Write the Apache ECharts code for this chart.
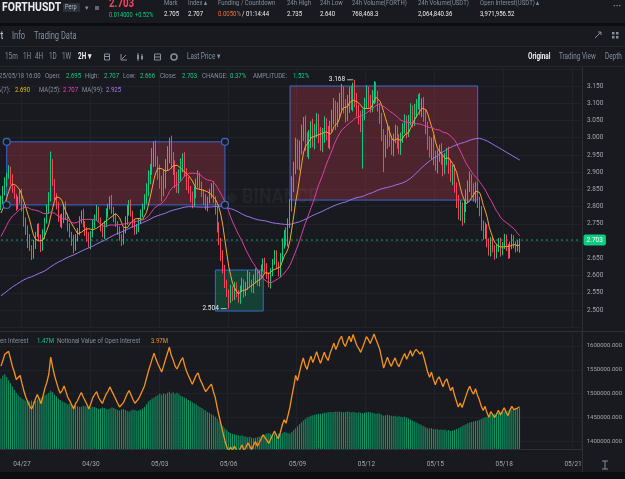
<!DOCTYPE html>
<html>
<head>
<meta charset="utf-8">
<title>FORTHUSDT Perp 2H</title>
<script src="https://cdn.jsdelivr.net/npm/echarts@6/dist/echarts.min.js"></script>
<style>
  html, body { margin: 0; padding: 0; background: #181a20; }
  #chart { width: 625px; height: 479px; }
</style>
</head>
<body>
<div id="chart"></div>
<script>
// 2H candles, first visible slot 04/26 02:00, last candle 05/18 16:00

// closes before the visible range, only used for the moving averages
const prevCloses = [
  2.46,2.44,2.47,2.45,2.43,2.46,2.48,2.45,2.47,2.49,2.46,2.44,2.47,2.45,2.48,2.50,2.47,2.45,2.48,2.46,2.49,2.47,2.45,2.48,
  2.46,2.49,2.47,2.50,2.48,2.46,2.49,2.51,2.48,2.47,2.50,2.48,2.46,2.49,2.47,2.45,2.48,2.50,2.47,2.49,2.46,2.48,2.51,2.49,2.47,2.50,
  2.48,2.46,2.49,2.47,2.50,2.48,2.51,2.49,2.47,2.50,2.52,2.49,2.51,2.48,2.50,2.53,2.51,2.49,2.52,2.54,2.51,2.55,2.53,2.56,
  2.58,2.62,2.60,2.64,2.67,2.65,2.69,2.72,2.70,2.68,2.71,2.74,2.72,2.70,2.73,2.76,2.74,2.72,2.75,2.78,2.76,2.79,2.77,2.80
];

const closes = [
  2.82,2.84,2.87,2.89,2.91,2.88,2.85,2.83,2.80,2.82,2.84,
  2.80,2.76,2.73,2.70,2.68,2.66,2.69,2.72,2.74,2.71,
  2.68,2.72,2.76,2.79,2.83,2.92,2.87,2.83,2.80,2.77,2.75,
  2.77,2.80,2.77,2.74,2.72,2.70,2.68,2.71,2.73,2.76,2.78,
  2.75,2.73,2.71,2.69,2.72,2.75,2.77,2.79,2.76,2.74,
  2.72,2.75,2.78,2.80,2.82,2.79,2.77,2.75,
  2.73,2.71,2.70,2.73,2.76,2.79,2.81,2.78,2.75,2.73,2.74,2.76,2.78,2.80,2.82,
  2.85,2.88,2.91,2.94,2.97,2.93,2.90,
  2.87,2.85,2.88,2.92,2.95,2.98,2.94,2.91,2.88,2.86,2.89,
  2.92,2.94,2.90,2.87,2.85,2.83,2.81,2.84,2.87,2.89,2.86,
  2.84,2.82,2.80,2.82,2.84,2.86,2.82,2.79,
  2.74,2.70,2.66,2.62,2.58,2.55,2.53,2.56,2.54,2.57,2.55,2.53,2.56,2.58,2.55,2.57,2.60,2.58,2.56,2.59,2.61,2.58,2.60,2.62,2.64,
  2.62,2.60,2.58,2.61,2.64,2.66,2.63,2.61,2.65,2.69,2.72,2.70,2.75,2.80,
  2.86,2.91,2.97,2.93,2.97,3.01,3.04,2.99,2.96,3.00,3.03,2.99,3.02,3.05,3.01,2.98,
  3.01,3.04,3.01,2.99,3.03,3.06,3.09,3.05,3.08,3.11,3.13,3.09,3.07,3.10,3.13,3.10,3.14,3.11,
  3.08,3.06,3.04,3.07,3.10,3.13,3.11,3.09,
  3.12,3.15,3.12,3.09,3.06,
  3.01,2.96,2.99,3.02,2.99,
  2.97,3.00,3.02,2.99,2.97,3.00,3.03,3.05,3.02,
  3.05,3.08,3.05,3.08,3.10,3.11,3.08,3.10,3.07,
  3.03,2.99,2.96,2.99,2.95,2.92,2.95,2.97,2.94,
  2.91,2.94,2.96,2.92,2.89,2.91,
  2.86,2.82,2.78,2.80,2.77,2.80,2.83,2.86,
  2.88,2.85,2.83,2.86,2.82,2.79,
  2.75,2.72,2.74,2.70,2.67,2.70,2.68,
  2.66,2.68,2.70,2.67,2.69,2.71,2.68,2.66,2.69,2.71,2.69,2.68,2.695,2.703
];

// wick lengths above / below the body, in thousandths of a USDT
const upWick = [
  12,20,15,8,10,6,14,9,7,10,8,
  12,6,9,15,20,8,14,7,10,12,
  9,14,8,16,12,40,18,10,9,14,7,
  10,8,15,9,12,7,18,10,8,12,9,
  14,8,10,16,9,12,7,15,10,8,
  12,9,15,8,10,14,9,11,
  8,13,10,7,12,15,9,11,8,14,10,7,12,9,16,
  18,25,14,30,20,22,16,
  22,20,28,18,25,20,26,19,24,21,18,
  20,15,18,12,16,10,14,18,11,15,9,
  13,10,16,9,12,8,14,10,
  12,15,9,14,11,8,10,13,9,12,10,8,11,14,9,12,15,10,8,13,11,9,14,12,10,
  12,16,9,11,8,14,13,10,15,18,12,20,16,22,
  28,20,30,25,22,28,20,24,26,22,18,25,20,22,19,21,
  18,22,16,24,19,21,25,18,23,20,26,19,22,24,18,21,20,28,
  20,15,18,12,16,22,18,14,
  18,14,12,16,10,
  12,15,18,20,14,
  16,12,18,14,20,15,12,18,14,
  16,20,14,18,12,16,20,14,18,
  12,16,14,10,18,12,15,10,14,
  12,15,10,14,16,11,
  12,10,14,18,12,15,20,16,
  22,14,18,12,10,8,
  12,10,14,9,8,12,10,
  8,12,9,10,7,11,9,12,8,10,7,9,8,4
];
const lowWick = [
  10,14,8,12,9,16,10,7,12,8,11,
  14,18,12,20,9,15,11,13,8,10,
  12,8,14,9,11,15,10,12,8,14,9,
  13,18,9,12,10,14,16,8,11,13,9,
  10,15,12,8,14,9,13,11,7,12,
  9,14,10,12,8,11,15,9,
  12,9,14,10,8,13,16,9,11,12,10,14,8,11,9,
  12,20,15,18,25,14,22,
  18,35,20,28,16,24,30,18,26,20,22,
  16,20,14,22,12,18,15,10,16,14,12,
  12,15,10,14,11,16,9,13,
  15,12,18,14,16,12,26,10,14,11,13,9,12,8,14,10,12,15,9,11,13,10,12,9,8,
  12,10,14,18,12,9,11,13,15,10,12,14,16,12,
  14,18,16,22,25,18,20,28,16,22,30,18,24,20,26,18,
  22,25,18,20,24,16,22,28,19,24,30,20,26,22,28,20,24,22,
  18,22,24,130,20,16,22,18,
  16,22,18,14,20,
  20,60,18,22,16,
  20,24,16,22,18,20,15,18,22,
  18,14,20,16,22,18,14,20,24,
  20,25,18,22,30,16,24,20,18,
  22,16,20,25,18,28,
  20,24,18,22,26,18,16,20,
  18,22,16,20,24,18,
  20,16,14,18,12,15,13,
  14,10,12,15,11,13,9,12,10,14,11,13,10,29
];

// open interest per candle, thousands of FORTH
const openInterestK = [
  1532,1538,1541,1535,1528,1522,1515,1508,1502,1497,1493,
  1490,1488,1485,1487,1484,1486,1483,1485,1488,1490,
  1492,1495,1497,1499,1502,1506,1503,1498,1494,1490,1487,
  1484,1482,1480,1478,1479,1477,1475,1476,1474,1472,1473,
  1475,1474,1472,1470,1471,1473,1472,1470,1468,1469,
  1471,1470,1468,1467,1469,1471,1470,1468,
  1466,1465,1467,1468,1466,1464,1463,1465,1467,1466,1464,1465,1467,1469,1472,
  1478,1484,1487,1490,1492,1495,1497,
  1500,1498,1501,1499,1502,1504,1501,1503,1500,1502,1499,
  1496,1494,1492,1490,1487,1485,1482,1480,1478,1475,1472,
  1470,1467,1465,1462,1460,1457,1455,1452,
  1448,1442,1437,1432,1428,1424,1420,1418,1416,1415,1414,1413,1412,1413,1411,1410,1409,1410,1408,1407,1408,1409,1410,1412,1414,
  1415,1417,1418,1416,1414,1415,1416,1417,1416,1418,1420,1419,1418,1417,
  1420,1424,1428,1432,1436,1440,1444,1447,1450,1452,1454,1455,1456,1457,1458,1458,
  1459,1460,1460,1461,1462,1461,1462,1463,1462,1463,1462,1461,1462,1463,1462,1461,1462,1461,
  1460,1461,1460,1459,1460,1461,1462,1461,
  1460,1459,1458,1459,1458,
  1456,1454,1455,1456,1455,
  1454,1453,1454,1452,1453,1452,1451,1452,1450,
  1448,1446,1444,1442,1440,1438,1436,1434,1432,
  1430,1428,1427,1428,1426,1425,1426,1424,1425,
  1424,1425,1423,1424,1422,1423,
  1424,1426,1428,1430,1432,1434,1436,1438,
  1440,1441,1442,1443,1444,1445,
  1447,1449,1451,1452,1454,1456,1457,
  1458,1459,1460,1461,1462,1463,1464,1465,1466,1467,1468,1469,1470,1470
];

const dateTicks = ['04/27', '04/30', '05/03', '05/06', '05/09', '05/12', '05/15', '05/18', '05/21'];

// rectangles drawn on the chart: [candle index, price]
const boxA = [[3, 2.988], [117, 2.805]];
const boxB = [[151, 3.150], [249, 2.819]];
const boxC = [[112, 2.616], [137, 2.497]];

const UP = '#0ecb81', DOWN = '#f6465d';
const GRID = '#1f2229';
const BLUE = '#3a68c8';
const FONT = 'Roboto, "Noto Sans", sans-serif';
const SX = 0.75;

const pad = n => (n < 10 ? '0' : '') + n;
const slotCount = 304;
const t0 = Date.UTC(2025, 3, 26, 2);
const categories = [];
for (let i = 0; i < slotCount; i++) {
  const d = new Date(t0 + i * 7200000);
  categories.push(pad(d.getUTCMonth() + 1) + '/' + pad(d.getUTCDate()) + ' ' + pad(d.getUTCHours()) + ':00');
}
const isDateTick = (idx, val) => val.endsWith(' 00:00') && dateTicks.indexOf(val.slice(0, 5)) >= 0;

const candles = closes.map((c, i) => {
  const o = i ? closes[i - 1] : prevCloses[prevCloses.length - 1];
  const lo = +(Math.min(o, c) - lowWick[i] / 1000).toFixed(3);
  const hi = +(Math.max(o, c) + upWick[i] / 1000).toFixed(3);
  return [o, c, lo, hi];
});

const allCloses = prevCloses.concat(closes);
function ma(n) {
  return closes.map((c, i) => {
    const end = i + prevCloses.length;
    let s = 0;
    for (let k = end - n + 1; k <= end; k++) s += allCloses[k];
    return +(s / n).toFixed(4);
  });
}

const openInterest = openInterestK.map(v => v * 1000);
const notional = openInterest.map((v, i) => Math.round(v * closes[i]));
const lastOI = openInterest[openInterest.length - 1];
const lastNotional = notional[notional.length - 1];
const lastClose = closes[closes.length - 1];

function txt(x, y, text, fill, size, bold, sx) {
  return {
    type: 'text', x: x, y: y, scaleX: sx || SX, z: 100, silent: true,
    style: { text: text, fill: fill, font: (bold ? 'bold ' : '') + size + 'px ' + FONT, verticalAlign: 'middle' }
  };
}
function line(x1, y1, x2, y2, color, w) {
  return { type: 'line', z: 90, silent: true, shape: { x1: x1, y1: y1, x2: x2, y2: y2 }, style: { stroke: color, lineWidth: w || 1 } };
}
function box(x, y, w, h, fill, stroke) {
  return { type: 'rect', z: 90, silent: true, shape: { x: x, y: y, width: w, height: h },
    style: { fill: fill || 'none', stroke: stroke || null, lineWidth: 1 } };
}

const GRAY = '#848e9c', WHITE = '#eaecef';

const graphics = [
  // header
  box(0, 23, 625, 3, '#0b0e11'),
  txt(2, 7.5, 'FORTHUSDT', WHITE, 13, true, 0.8),
  { type: 'rect', z: 90, silent: true, shape: { x: 63, y: 3, width: 17, height: 9, r: 1 }, style: { fill: '#2b3139' } },
  txt(65, 7.5, 'Perp', '#b7bdc6', 7.5),
  txt(85, 8, '▾', GRAY, 7, false, 1),
  box(95, 6, 4, 4, '#5e6673'),
  txt(109, 3.5, '2.703', DOWN, 13, true),
  txt(109, 15, '0.014000', UP, 7.5),
  txt(135, 15, '+0.52%', UP, 7.5),
  txt(164, 2.5, 'Mark', GRAY, 8),
  txt(188, 2.5, 'Index ▴', GRAY, 8),
  txt(218, 2.5, 'Funding / Countdown', GRAY, 8),
  txt(287, 2.5, '24h High', GRAY, 8),
  txt(320, 2.5, '24h Low', GRAY, 8),
  txt(352, 2.5, '24h Volume(FORTH)', GRAY, 8),
  txt(418, 2.5, '24h Volume(USDT)', GRAY, 8),
  txt(480, 2.5, 'Open Interest(USDT) ▴', GRAY, 8),
  txt(164, 14, '2.705', WHITE, 8),
  txt(188, 14, '2.707', WHITE, 8),
  txt(218, 14, '0.0050%', '#f0733c', 8),
  txt(242, 14, '/ 01:14:44', WHITE, 8),
  txt(287, 14, '2.735', WHITE, 8),
  txt(320, 14, '2.640', WHITE, 8),
  txt(352, 14, '768,468.3', WHITE, 8),
  txt(418, 14, '2,064,840.36', WHITE, 8),
  txt(480, 14, '3,971,956.52', WHITE, 8),
  txt(613, 7, '···', GRAY, 9, true, 1),

  // tabs
  txt(-15, 36.5, 'Chart', WHITE, 10),
  txt(12, 36.5, 'Info', GRAY, 10),
  txt(34, 36.5, 'Trading Data', GRAY, 10),
  line(595, 38, 601, 32, GRAY), line(598, 32, 601, 32, GRAY), line(601, 32, 601, 35, GRAY),
  box(612, 32, 2.5, 2.5, GRAY), box(616, 32, 2.5, 2.5, GRAY), box(612, 36, 2.5, 2.5, GRAY), box(616, 36, 2.5, 2.5, GRAY),
  line(0, 46.5, 625, 46.5, '#23262d'),

  // toolbar
  txt(5, 57, '15m', GRAY, 8.5),
  txt(23, 57, '1H', GRAY, 8.5),
  txt(35, 57, '4H', GRAY, 8.5),
  txt(49, 57, '1D', GRAY, 8.5),
  txt(62, 57, '1W', GRAY, 8.5),
  txt(78, 57, '2H ▾', WHITE, 8.5, true),
  box(104.5, 54, 5, 6, null, GRAY), line(104.5, 56.5, 109.5, 56.5, GRAY),
  line(121, 54, 121, 60, GRAY), line(121, 60, 127, 60, GRAY), line(122, 59, 126, 55, GRAY),
  line(138, 53, 138, 61, GRAY), line(142, 54, 142, 60, GRAY), box(137, 55, 2, 4, GRAY), box(141, 56, 2, 3, GRAY),
  box(154.5, 54, 6, 6, null, GRAY), line(154.5, 57, 160.5, 57, GRAY),
  { type: 'circle', z: 90, silent: true, shape: { cx: 174, cy: 57, r: 3 }, style: { fill: 'none', stroke: GRAY, lineWidth: 1.5 } },
  txt(187, 57, 'Last Price ▾', GRAY, 8.5),
  txt(528, 57, 'Original', WHITE, 8.5, true),
  txt(559, 57, 'Trading View', GRAY, 8.5),
  txt(605, 57, 'Depth', GRAY, 8.5),
  line(0, 66.5, 625, 66.5, '#23262d'),

  // frame
  line(582.5, 67, 582.5, 472, '#2b2f36'),
  line(0, 331.5, 625, 331.5, '#2b2f36'),
  box(0, 472, 625, 7, '#0b0e11'),
  line(602, 461, 608, 461, GRAY), line(602, 469, 608, 469, GRAY), line(605, 461, 605, 469, GRAY),

  // watermark
  { type: 'polygon', z: 1, silent: true, shape: { points: [[226, 198], [232, 192], [238, 198], [232, 204]] }, style: { fill: 'rgba(255,255,255,0.04)' } },
  { type: 'text', x: 242, y: 198, scaleX: 0.9, z: 1, silent: true,
    style: { text: 'BINANCE', fill: 'rgba(255,255,255,0.045)', font: 'bold 20px ' + FONT, verticalAlign: 'middle' } },

  // OHLC legend
  txt(-7.7, 75.5, '2025/05/18 16:00', GRAY, 8),
  txt(45, 75.5, 'Open:', GRAY, 8), txt(66, 75.5, '2.695', UP, 8),
  txt(85, 75.5, 'High:', GRAY, 8), txt(104, 75.5, '2.707', UP, 8),
  txt(123, 75.5, 'Low:', GRAY, 8), txt(140, 75.5, '2.666', UP, 8),
  txt(160, 75.5, 'Close:', GRAY, 8), txt(182, 75.5, '2.703', UP, 8),
  txt(202, 75.5, 'CHANGE:', GRAY, 8), txt(230, 75.5, '0.37%', UP, 8),
  txt(253, 75.5, 'AMPLITUDE:', GRAY, 8), txt(293, 75.5, '1.52%', UP, 8),
  txt(-8, 90, 'MA(7):', GRAY, 8), txt(15, 90, '2.690', '#f0b90b', 8),
  txt(39, 90, 'MA(25):', GRAY, 8), txt(63, 90, '2.707', '#eb40b5', 8),
  txt(82, 90, 'MA(99):', GRAY, 8), txt(106, 90, '2.925', '#a77ef0', 8),

  // open interest legend
  txt(-7.4, 340.7, 'Open Interest', GRAY, 8),
  txt(37, 340.7, (lastOI / 1e6).toFixed(2) + 'M', UP, 8),
  txt(57, 340.7, 'Notional Value of Open Interest', GRAY, 8),
  txt(151, 340.7, (lastNotional / 1e6).toFixed(2) + 'M', '#f7931a', 8)
];

const handleStyle = { color: '#181a20', borderColor: BLUE, borderWidth: 1.2 };
const areaItem = (b, fill) => [
  { xAxis: b[0][0], yAxis: b[0][1], itemStyle: { color: fill, borderColor: BLUE, borderWidth: 1 } },
  { xAxis: b[1][0], yAxis: b[1][1] }
];

const chart = echarts.init(document.getElementById('chart'));
chart.setOption({
  backgroundColor: '#181a20',
  animation: false,
  textStyle: { fontFamily: FONT },
  graphic: { elements: graphics },
  grid: [
    { left: 0, right: 43, top: 68.77, height: 258.46 },
    { left: 0, right: 43, top: 331, height: 118 }
  ],
  xAxis: [
    { type: 'category', gridIndex: 0, data: categories, boundaryGap: true,
      axisLine: { show: false }, axisTick: { show: false }, axisLabel: { show: false },
      splitLine: { show: true, interval: isDateTick, lineStyle: { color: GRID } } },
    { type: 'category', gridIndex: 1, data: categories, boundaryGap: true,
      axisLine: { show: true, lineStyle: { color: '#2b2f36' } }, axisTick: { show: false },
      axisLabel: { show: true, interval: isDateTick, formatter: v => v.slice(0, 5), color: '#a1a7b0', fontSize: 6.5, margin: 12 },
      splitLine: { show: true, interval: isDateTick, lineStyle: { color: GRID } } }
  ],
  yAxis: [
    { type: 'value', gridIndex: 0, position: 'right', min: 2.45, max: 3.2, interval: 0.05,
      axisLine: { show: false }, axisTick: { show: false },
      axisLabel: { color: '#a1a7b0', fontSize: 6.5, margin: 5, showMinLabel: false, showMaxLabel: false, formatter: v => v.toFixed(3) },
      splitLine: { lineStyle: { color: GRID } } },
    { type: 'value', gridIndex: 1, position: 'right', min: 1384300, max: 1631350, splitNumber: 5,
      axisLine: { show: false }, axisTick: { show: false },
      axisLabel: { color: '#a1a7b0', fontSize: 6, margin: 5, showMinLabel: false, showMaxLabel: false, formatter: v => v.toFixed(3) },
      splitLine: { lineStyle: { color: GRID } } },
    { type: 'value', gridIndex: 1, min: 3611000, max: 4621000, show: false, splitLine: { show: false } }
  ],
  series: [
    {
      type: 'candlestick', name: 'FORTHUSDT', xAxisIndex: 0, yAxisIndex: 0, data: candles, barWidth: '45%',
      itemStyle: { color: UP, color0: DOWN, borderColor: UP, borderColor0: DOWN, borderWidth: 1 },
      markArea: {
        silent: true,
        data: [areaItem(boxA, 'rgba(246,70,93,0.24)'), areaItem(boxB, 'rgba(246,70,93,0.24)'), areaItem(boxC, 'rgba(14,203,129,0.22)')]
      },
      markPoint: {
        silent: true,
        data: [
          { coord: boxA[0], symbol: 'circle', symbolSize: 7, itemStyle: handleStyle, label: { show: false } },
          { coord: [boxA[1][0], boxA[0][1]], symbol: 'circle', symbolSize: 7, itemStyle: handleStyle, label: { show: false } },
          { coord: [boxA[0][0], boxA[1][1]], symbol: 'circle', symbolSize: 7, itemStyle: handleStyle, label: { show: false } },
          { coord: boxA[1], symbol: 'circle', symbolSize: 7, itemStyle: handleStyle, label: { show: false } },
          { type: 'max', valueDim: 'highest', symbol: 'rect', symbolSize: [6, 1], symbolOffset: [-5, 0],
            itemStyle: { color: '#b7bdc6' },
            label: { show: true, position: 'left', distance: 2, color: WHITE, fontSize: 6.5, formatter: p => (+p.value).toFixed(3) } },
          { type: 'min', valueDim: 'lowest', symbol: 'rect', symbolSize: [6, 1], symbolOffset: [-5, 0],
            itemStyle: { color: '#b7bdc6' },
            label: { show: true, position: 'left', distance: 2, color: WHITE, fontSize: 6.5, formatter: p => (+p.value).toFixed(3) } }
        ]
      }
    },
    { type: 'line', name: 'MA7', xAxisIndex: 0, yAxisIndex: 0, data: ma(7), symbol: 'none',
      lineStyle: { color: '#f0a92e', width: 1 } },
    { type: 'line', name: 'MA25', xAxisIndex: 0, yAxisIndex: 0, data: ma(25), symbol: 'none',
      lineStyle: { color: '#e0409f', width: 1 } },
    { type: 'line', name: 'MA99', xAxisIndex: 0, yAxisIndex: 0, data: ma(99), symbol: 'none',
      lineStyle: { color: '#9b72e8', width: 1 } },
    // last price line across the whole panel
    { type: 'line', name: 'Last Price', xAxisIndex: 0, yAxisIndex: 0, data: categories.map(() => lastClose),
      symbol: 'none', silent: true, z: 1,
      lineStyle: { color: '#0ecb81', type: [2, 3], width: 1, opacity: 0.8 },
      markPoint: {
        silent: true, symbol: 'rect', symbolSize: 1, itemStyle: { color: 'rgba(0,0,0,0)' },
        data: [{ coord: [slotCount - 1, lastClose], value: lastClose,
          label: { show: true, position: 'right', distance: 2, formatter: () => lastClose.toFixed(3), color: '#fff',
            backgroundColor: UP, padding: [2, 3], borderRadius: 2, fontSize: 6.5 } }]
      } },
    { type: 'bar', name: 'Open Interest', xAxisIndex: 1, yAxisIndex: 1, data: openInterest, barWidth: '55%',
      itemStyle: { color: '#0c9a65' } },
    { type: 'line', name: 'Notional Value of Open Interest', xAxisIndex: 1, yAxisIndex: 2, data: notional,
      symbol: 'none', lineStyle: { color: '#f7931a', width: 1.3 } }
  ]
});
</script>
</body>
</html>
